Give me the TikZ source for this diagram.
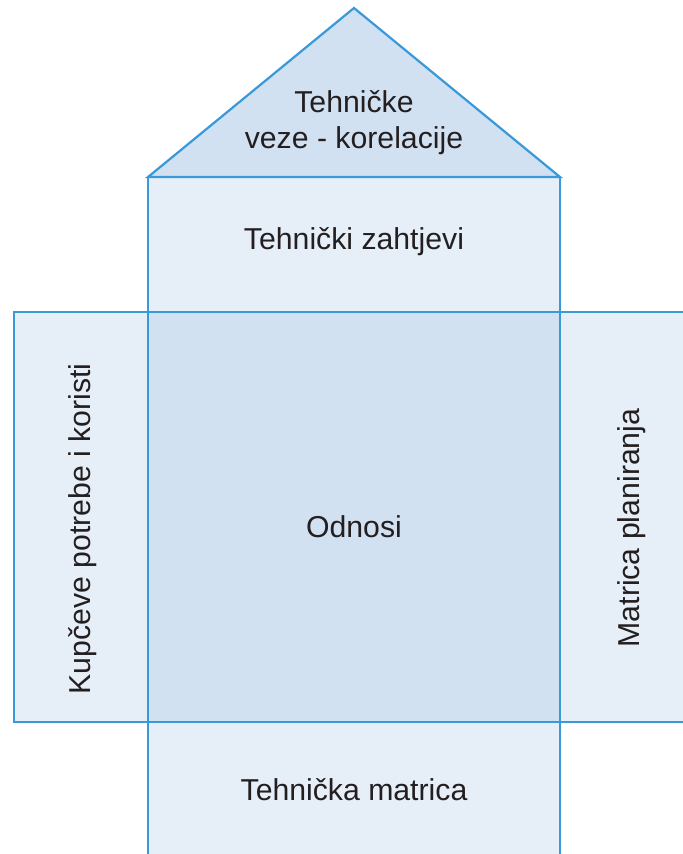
\documentclass[tikz,border=0pt]{standalone}
\usepackage{fontspec}
\setmainfont{Liberation Sans}
\definecolor{lightfill}{HTML}{E6EEF8}
\definecolor{darkfill}{HTML}{D2E1F2}
\definecolor{edge}{HTML}{3A9AD9}
\definecolor{txt}{HTML}{231F20}
\begin{document}
\begin{tikzpicture}[x=0.03cm,y=-0.03cm,
  edgeline/.style={draw=edge,line width=1.9pt},
  lbl/.style={text=txt,font=\fontsize{25.8}{30.6}\selectfont,align=center,inner sep=0pt}]
\useasboundingbox (0,0) rectangle (683,854);
% fills
\fill[lightfill] (148,177) rectangle (560,312);
\fill[lightfill] (14,312) rectangle (148,722);
\fill[lightfill] (560,312) rectangle (690,722);
\fill[lightfill] (148,722) rectangle (560,860);
\fill[darkfill] (148,312) rectangle (560,722);
\fill[darkfill] (148,177) -- (354,8) -- (560,177) -- cycle;
% edges
\draw[edgeline,line join=miter] (148,177) -- (354,8) -- (560,177) -- cycle;
\draw[edgeline] (148,177) -- (148,860);
\draw[edgeline] (560,177) -- (560,860);
\draw[edgeline] (14,312) rectangle (690,722);
% labels
\node[lbl] (roof) at (354,123) {Tehničke\\veze - korelacije};
\node[lbl] (req) at (354,242) {Tehnički zahtjevi};
\node[lbl] (rel) at (354,527) {Odnosi};
\node[lbl,rotate=90] (cust) at (83,529) {Kupčeve potrebe i koristi};
\node[lbl,rotate=90] (plan) at (632,528) {Matrica planiranja};
\node[lbl] (techm) at (354,790) {Tehnička matrica};
\end{tikzpicture}
\end{document}
